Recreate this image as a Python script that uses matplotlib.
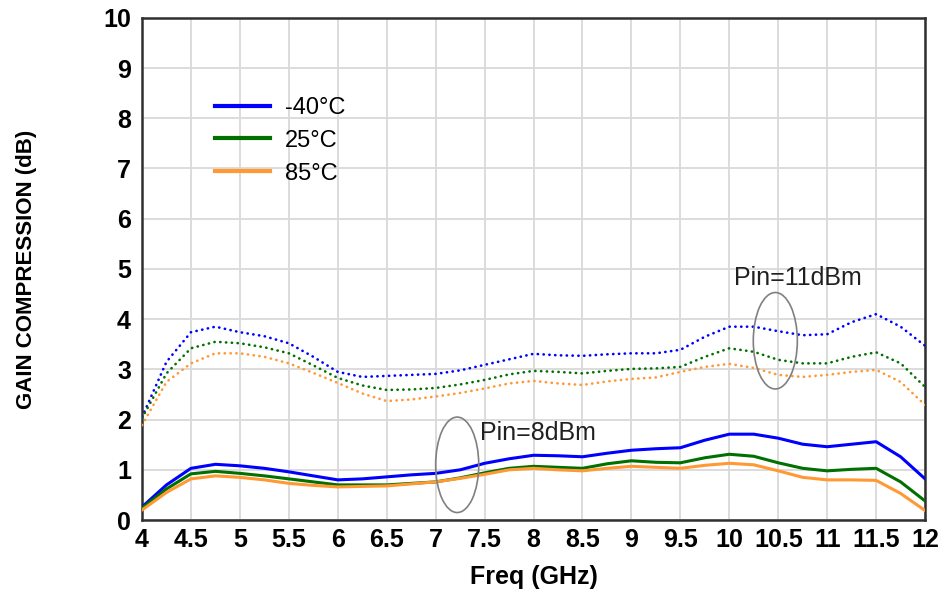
import matplotlib
matplotlib.use('Agg')
import matplotlib.pyplot as plt
from matplotlib.patches import Ellipse

# Frequency points (GHz)
FREQ = [4.0, 4.25, 4.5, 4.75, 5.0, 5.25, 5.5, 5.75, 6.0, 6.25, 6.5, 6.75,
        7.0, 7.25, 7.5, 7.75, 8.0, 8.25, 8.5, 8.75, 9.0, 9.25, 9.5, 9.75,
        10.0, 10.25, 10.5, 10.75, 11.0, 11.25, 11.5, 11.75, 12.0]

# Pin = 8 dBm (solid)
P8_M40 = [0.26, 0.70, 1.03, 1.11, 1.08, 1.03, 0.96, 0.88, 0.80, 0.82, 0.86, 0.90,
          0.93, 1.00, 1.13, 1.22, 1.29, 1.28, 1.26, 1.33, 1.39, 1.42, 1.44, 1.59,
          1.71, 1.71, 1.63, 1.51, 1.46, 1.51, 1.56, 1.26, 0.82]
P8_25 = [0.24, 0.62, 0.92, 0.97, 0.93, 0.88, 0.82, 0.76, 0.70, 0.70, 0.70, 0.73,
         0.76, 0.84, 0.94, 1.03, 1.07, 1.05, 1.03, 1.12, 1.18, 1.15, 1.14, 1.24,
         1.31, 1.27, 1.14, 1.03, 0.98, 1.01, 1.03, 0.76, 0.38]
P8_85 = [0.20, 0.55, 0.82, 0.88, 0.85, 0.80, 0.73, 0.69, 0.66, 0.67, 0.68, 0.72,
         0.76, 0.83, 0.91, 1.00, 1.03, 1.00, 0.98, 1.03, 1.07, 1.05, 1.03, 1.09,
         1.13, 1.10, 0.98, 0.85, 0.80, 0.80, 0.79, 0.53, 0.19]

# Pin = 11 dBm (dotted)
P11_M40 = [2.05, 3.15, 3.74, 3.85, 3.74, 3.66, 3.52, 3.25, 2.95, 2.85, 2.87, 2.89,
           2.91, 2.98, 3.09, 3.20, 3.31, 3.28, 3.27, 3.30, 3.32, 3.32, 3.39, 3.65,
           3.85, 3.85, 3.76, 3.68, 3.70, 3.94, 4.10, 3.85, 3.47]
P11_25 = [2.03, 2.92, 3.42, 3.55, 3.52, 3.44, 3.32, 3.08, 2.83, 2.68, 2.59, 2.60,
          2.63, 2.70, 2.79, 2.90, 2.97, 2.95, 2.92, 2.97, 3.01, 3.02, 3.05, 3.25,
          3.42, 3.35, 3.19, 3.12, 3.12, 3.25, 3.34, 3.12, 2.65]
P11_85 = [1.89, 2.75, 3.12, 3.32, 3.32, 3.25, 3.12, 2.93, 2.73, 2.52, 2.37, 2.40,
          2.46, 2.53, 2.62, 2.72, 2.77, 2.72, 2.69, 2.76, 2.81, 2.84, 2.95, 3.05,
          3.11, 3.03, 2.89, 2.85, 2.89, 2.95, 2.99, 2.75, 2.29]

LABELS = ['-40°C', '25°C', '85°C']
COLORS = ['#0000ff', '#007000', '#ff9933']

plt.rcParams['font.family'] = ['Liberation Sans', 'DejaVu Sans']

fig = plt.figure(figsize=(9.43, 5.93), dpi=100)
ax = fig.add_axes([0.1506, 0.123, 0.8304, 0.847])

solid = [P8_M40, P8_25, P8_85]
dotted = [P11_M40, P11_25, P11_85]
for ys, lab, c in zip(solid, LABELS, COLORS):
    ax.plot(FREQ, ys, color=c, lw=2.2, label=lab, zorder=3)
for ys, c in zip(dotted, COLORS):
    ax.plot(FREQ, ys, color=c, lw=1.9, linestyle=(0, (0.1, 2.1)),
            dash_capstyle='round', zorder=3)

ax.set_xlim(4, 12)
ax.set_ylim(0, 10)
ax.set_xticks([4 + 0.5 * i for i in range(17)])
ax.set_xticklabels(['4', '4.5', '5', '5.5', '6', '6.5', '7', '7.5', '8', '8.5',
                    '9', '9.5', '10', '10.5', '11', '11.5', '12'])
ax.set_yticks(range(11))
ax.tick_params(length=0, labelsize=18)
ax.tick_params(axis='y', pad=8)
ax.tick_params(axis='x', pad=6)
for t in ax.get_xticklabels() + ax.get_yticklabels():
    t.set_fontweight('bold')
ax.grid(True, color='#d9d9d9', lw=1.3)
ax.set_axisbelow(True)
for s in ax.spines.values():
    s.set_color('#303030')
    s.set_linewidth(1.8)

ax.set_xlabel('Freq (GHz)', fontsize=18, fontweight='bold', labelpad=9)
ax.set_ylabel('GAIN COMPRESSION (dB)', fontsize=16, fontweight='bold')
ax.yaxis.set_label_coords(-0.134, 0.5)

leg = ax.legend(loc='upper left', bbox_to_anchor=(0.078, 0.866), frameon=False,
                borderpad=0, fontsize=17, handlelength=2.35, handletextpad=0.6,
                labelspacing=0.46)
for h in leg.get_lines():
    h.set_linewidth(3.0)

ax.add_patch(Ellipse((7.22, 1.1), 0.44, 1.9, fill=False, ec='#808080', lw=1.2, zorder=4))
ax.add_patch(Ellipse((10.47, 3.57), 0.45, 1.92, fill=False, ec='#808080', lw=1.2, zorder=4))
ax.text(7.45, 1.73, 'Pin=8dBm', fontsize=18, va='center', ha='left', color='#202020')
ax.text(10.05, 4.82, 'Pin=11dBm', fontsize=18, va='center', ha='left', color='#202020')

fig.savefig('out.png', dpi=100)
